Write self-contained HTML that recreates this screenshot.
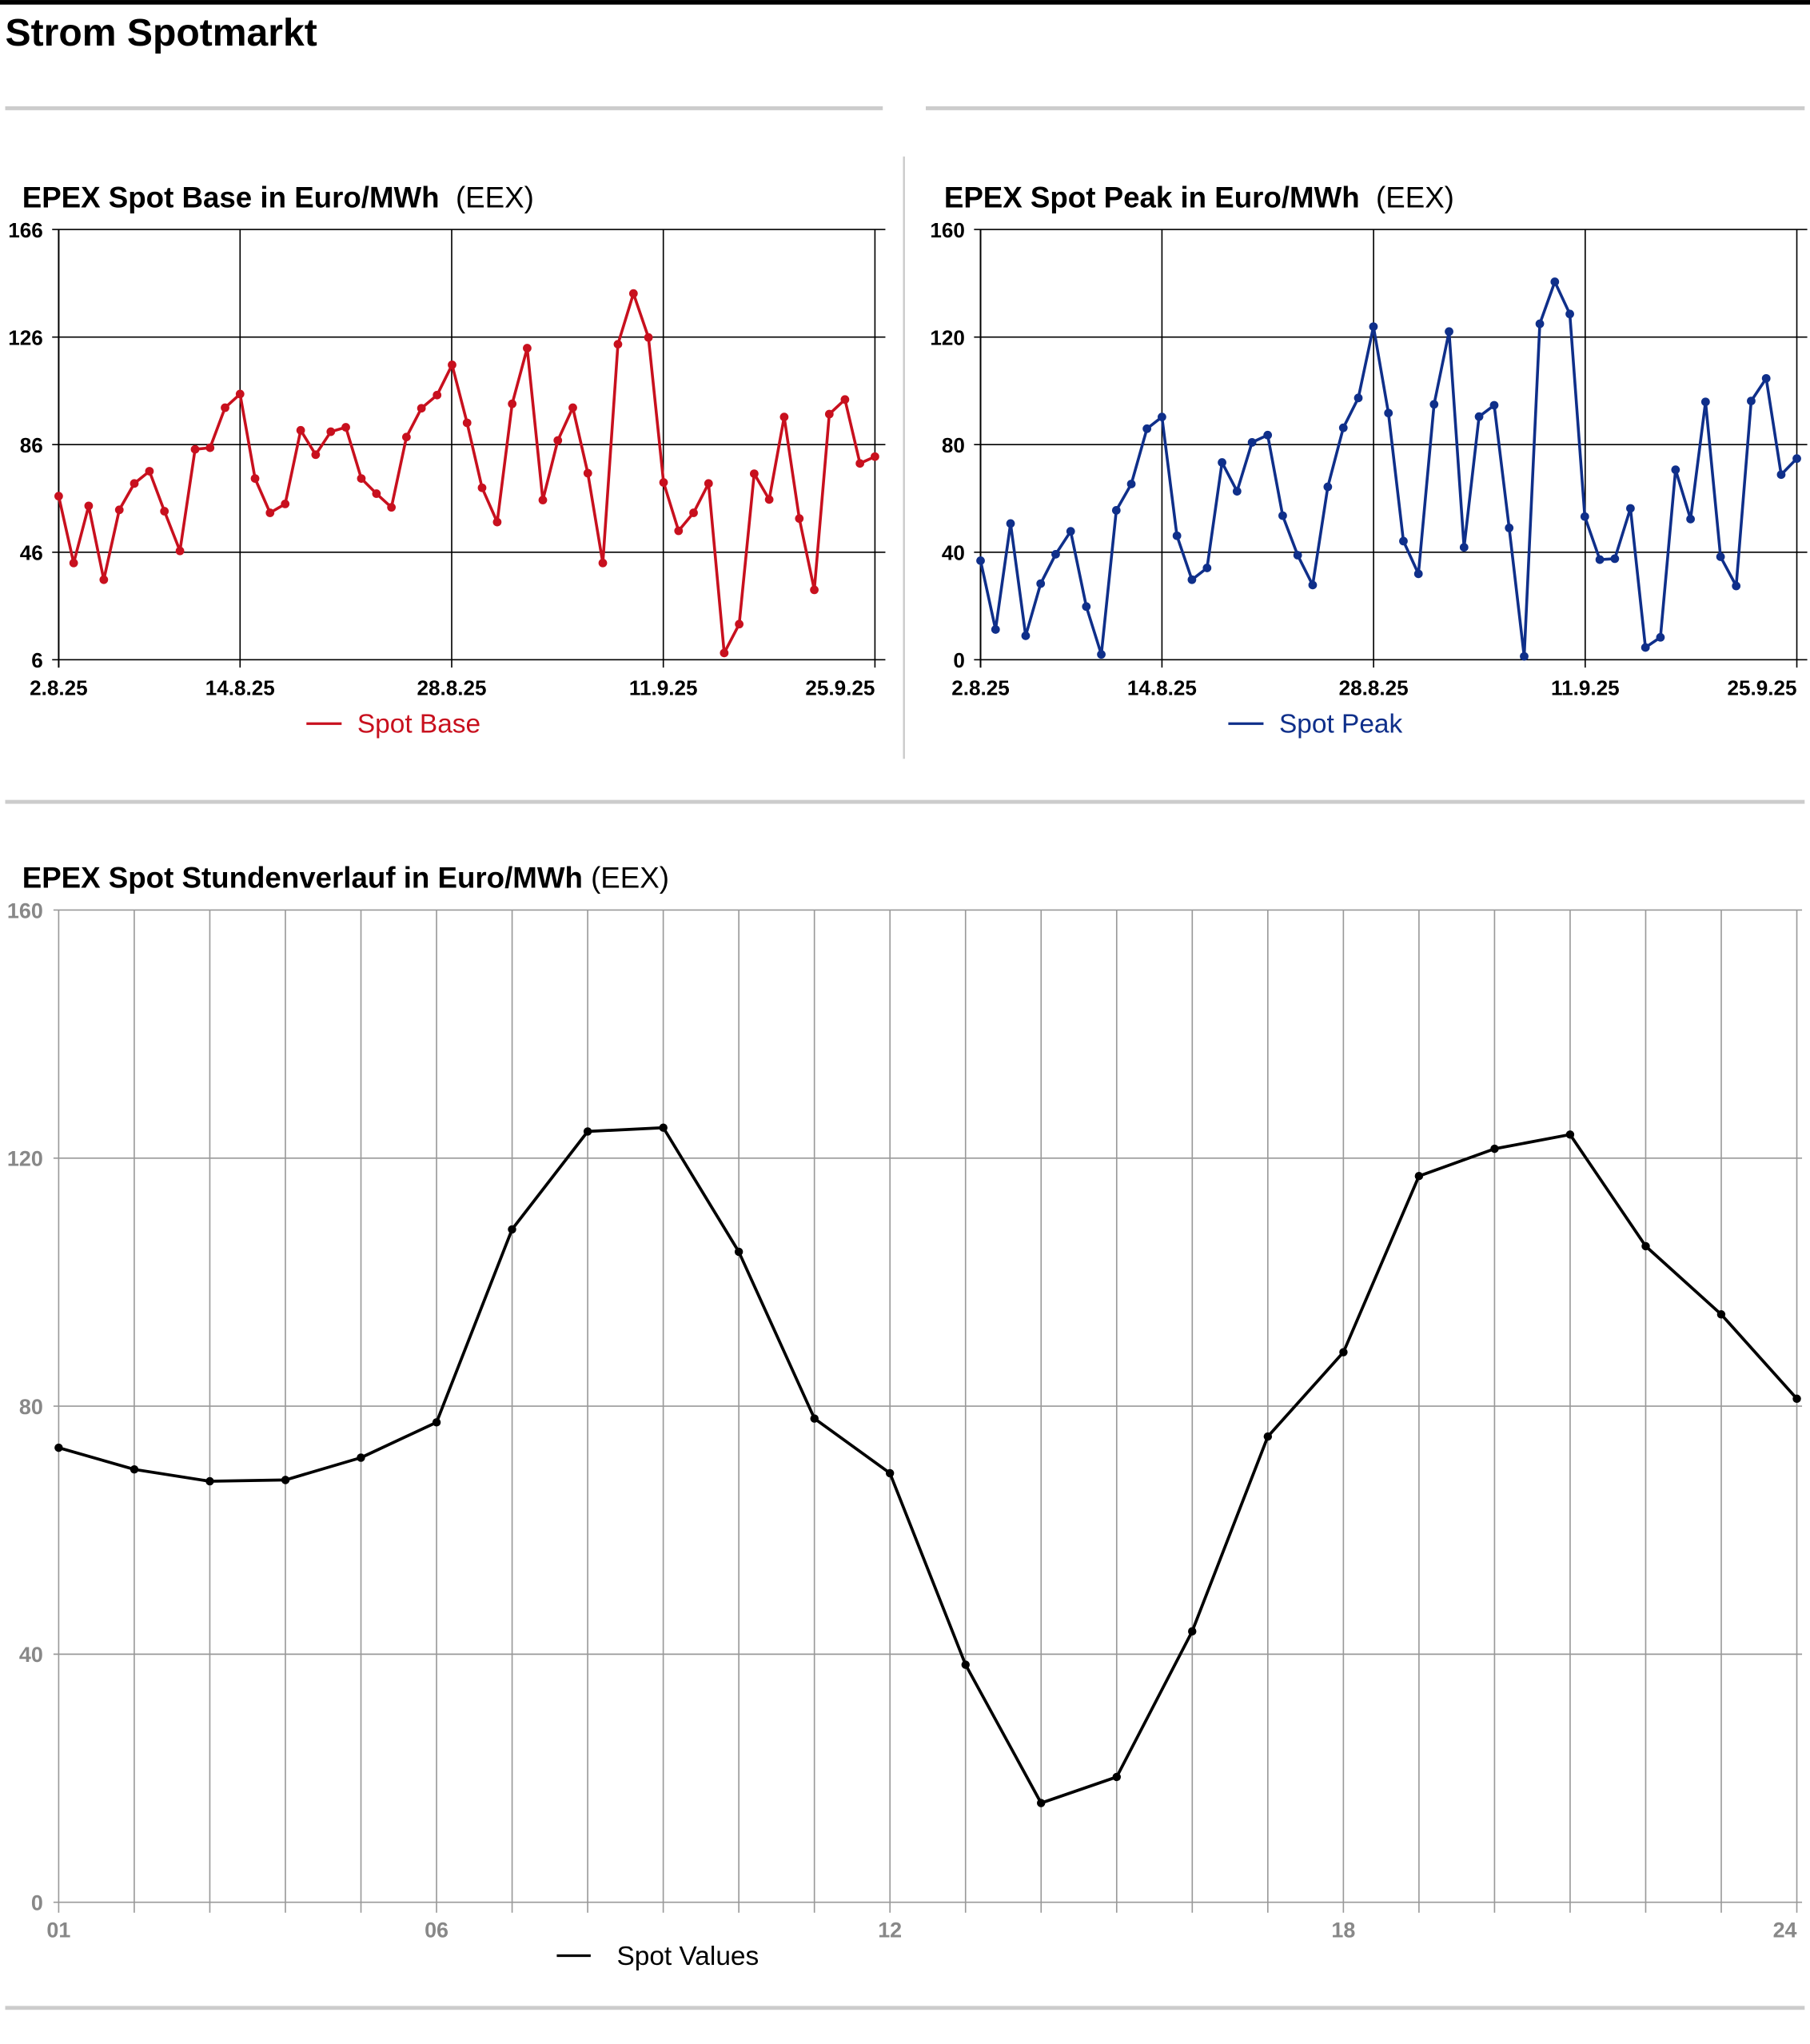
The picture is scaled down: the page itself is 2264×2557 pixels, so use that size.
<!DOCTYPE html>
<html><head><meta charset="utf-8"><style>
html,body{margin:0;padding:0;background:#fff}
svg{display:block}
text{font-family:"Liberation Sans",sans-serif}
.tk{font-family:"Liberation Sans Narrow","Liberation Sans",sans-serif;font-weight:bold;font-size:16px}
.tk2{font-family:"Liberation Sans",sans-serif;font-weight:bold;font-size:16.5px}
</style></head><body>
<svg id="s" xmlns="http://www.w3.org/2000/svg" width="2264" height="2557" viewBox="0 0 1388.1 1567.7">
<rect x="0" y="0" width="1388.1" height="3.5" fill="#000"/>
<text x="4" y="35" font-size="29.5" font-weight="bold">Strom Spotmarkt</text>
<rect x="4" y="81.5" width="673" height="3" fill="#ccc"/>
<rect x="710" y="81.5" width="674" height="3" fill="#ccc"/>
<rect x="692.5" y="120" width="1.5" height="462" fill="#ccc"/>
<rect x="4" y="613.5" width="1380" height="3" fill="#ccc"/>
<rect x="4" y="1538.5" width="1380" height="3" fill="#ccc"/>
<text x="17" y="159" font-size="22.5"><tspan font-weight="bold">EPEX Spot Base in Euro/MWh</tspan>&#160;&#160;(EEX)</text>
<text x="724" y="159" font-size="22.5"><tspan font-weight="bold">EPEX Spot Peak in Euro/MWh</tspan>&#160;&#160;(EEX)</text>
<text x="17" y="681" font-size="22.5"><tspan font-weight="bold">EPEX Spot Stundenverlauf in Euro/MWh</tspan>&#160;(EEX)</text>
<g id="g"></g>
<line x1="235" y1="555" x2="262" y2="555" stroke="#c8101e" stroke-width="2"/>
<text x="274" y="562" font-size="20.5" fill="#c8101e">Spot Base</text>
<line x1="942" y1="555" x2="969" y2="555" stroke="#0f2f8a" stroke-width="2"/>
<text x="981" y="562" font-size="20.5" fill="#0f2f8a">Spot Peak</text>
<line x1="427" y1="1500" x2="453" y2="1500" stroke="#000" stroke-width="2"/>
<text x="473" y="1507" font-size="20.5">Spot Values</text>
</svg>
<script>
(function(){
var g=document.getElementById('g'),h='';
function L(x1,y1,x2,y2,c,w){h+='<line x1="'+x1+'" y1="'+y1+'" x2="'+x2+'" y2="'+y2+'" stroke="'+c+'" stroke-width="'+w+'"/>';}
function T(x,y,t,a,cls,fill){h+='<text class="'+cls+'" x="'+x+'" y="'+y+'" text-anchor="'+a+'" fill="'+(fill||'#000')+'">'+t+'</text>';}
function series(pts,c,r,w){var s=pts.map(function(p){return p[0].toFixed(1)+','+p[1].toFixed(1);}).join(' ');
 h+='<polyline points="'+s+'" fill="none" stroke="'+c+'" stroke-width="'+w+'" stroke-linejoin="round"/>';
 pts.forEach(function(p){h+='<circle cx="'+p[0].toFixed(1)+'" cy="'+p[1].toFixed(1)+'" r="'+r+'" fill="'+c+'"/>';});}
function small(x0,x1r,xlast,ylabels,dates,pts,c,zx0,zx1){
 var pt=176,pb=506;
 for(var i=0;i<5;i++){var y=pt+i*(pb-pt)/4;L(x0-5,y,x1r,y,'#000',1);T(x0-12,y+6,ylabels[i],'end','tk');}
 L(x0,pt,x0,pb+6,'#000',1.2);
 for(var i=0;i<5;i++){var d=[0,12,26,40,54][i];var x=x0+d*(xlast-x0)/54;L(x,pt,x,pb+6,'#000',1);T(x,533,dates[i],i==4?'end':'middle','tk');}
 var P=pts.map(function(p){return [x0+(p[0]-zx0)*(xlast-x0)/(zx1-zx0),pt+(p[1]-467)*330/881];});
 series(P,c,3.3,2.2);}
var base=[[102,1013],[128,1150],[154,1033],[180,1184],[207,1041],[233,987],[259,962],[285,1044],[312,1125],[338,917],[364,914],[390,832],[416,804],[442,977],[468,1047],[494,1029],[521,878],[547,928],[573,881],[599,872],[626,977],[652,1008],[678,1036],[704,892],[730,833],[757,806],[783,744],[809,863],[835,996],[861,1066],[887,824],[913,710],[940,1021],[966,899],[992,832],[1018,966],[1044,1150],[1070,702],[1097,598],[1123,688],[1149,985],[1175,1084],[1201,1047],[1227,987],[1254,1334],[1280,1275],[1306,967],[1332,1020],[1358,851],[1384,1059],[1410,1205],[1436,845],[1463,815],[1489,946],[1515,932]];
var peak=[[132,1145],[158,1286],[184,1069],[210,1299],[236,1192],[262,1132],[288,1085],[315,1239],[341,1337],[367,1042],[393,988],[420,875],[446,851],[472,1094],[498,1184],[524,1160],[550,944],[576,1003],[602,903],[629,888],[655,1053],[681,1134],[707,1195],[733,994],[760,873],[786,812],[812,666],[838,843],[864,1105],[890,1172],[917,825],[943,676],[969,1118],[995,850],[1021,827],[1047,1078],[1073,1341],[1100,660],[1126,574],[1152,640],[1178,1055],[1204,1143],[1230,1141],[1257,1038],[1283,1323],[1309,1302],[1335,959],[1361,1060],[1387,820],[1413,1137],[1440,1197],[1466,818],[1492,772],[1518,969],[1545,936]];
var dates=['2.8.25','14.8.25','28.8.25','11.9.25','25.9.25'];
small(45,679,671,['166','126','86','46','6'],dates,base,'#c8101e',102,1515);
small(752,1386,1378,['160','120','80','40','0'],dates,peak,'#0f2f8a',132,1545);
var x0=45,x1=1378,pt=698,pb=1459;
for(var i=0;i<5;i++){var y=pt+i*(pb-pt)/4;L(x0-4,y,x1+4,y,'#999',1);T(33,y+6,['160','120','80','40','0'][i],'end','tk2','#888');}
for(var k=0;k<24;k++){var x=x0+k*(x1-x0)/23;L(x,pt,x,pb+8,'#999',1);}
[[1,'01'],[6,'06'],[12,'12'],[18,'18'],[24,'24']].forEach(function(a){var x=x0+(a[0]-1)*(x1-x0)/23;T(x,1486,a[1],a[0]==24?'end':'middle','tk2','#888');});
var v=[73.3,69.8,67.9,68.1,71.7,77.4,108.5,124.3,124.9,104.9,78.0,69.2,38.3,16.0,20.2,43.7,75.1,88.7,117.1,121.5,123.8,105.8,94.8,81.2];
series(v.map(function(y,k){return [x0+k*(x1-x0)/23,pb-y*(pb-pt)/160];}),'#000',3.2,2.3);
g.innerHTML=h;
})();
</script>
</body></html>
